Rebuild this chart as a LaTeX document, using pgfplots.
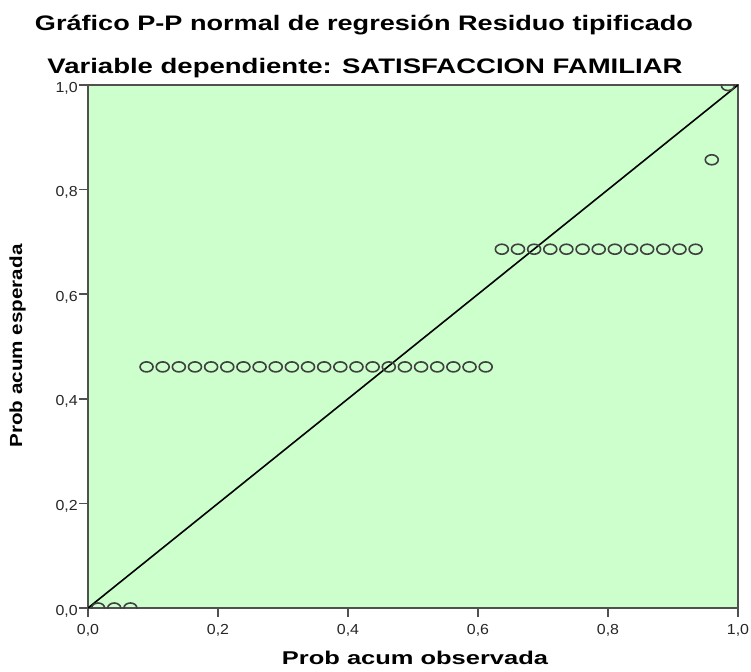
\documentclass[border=0pt]{standalone}
\usepackage{pgfplots}
\pgfplotsset{compat=1.18}
\usepackage{fontspec}
\setmainfont{Liberation Sans}
\newfontfamily\tickfont[FakeStretch=1.1]{Liberation Sans}
\definecolor{bggreen}{RGB}{204,255,204}
\definecolor{axgray}{RGB}{80,80,80}
\begin{document}
\begin{tikzpicture}
\useasboundingbox (-88pt,-63pt) rectangle (663pt,608pt);
\begin{axis}[
  at={(0pt,0pt)}, anchor=south west,
  scale only axis, width=650pt, height=523pt,
  xmin=0, xmax=1, ymin=0, ymax=1,
  xtick={0,0.2,0.4,0.6,0.8,1}, ytick={0,0.2,0.4,0.6,0.8,1},
  xtick pos=left, ytick pos=left,
  tick align=outside, major tick length=9pt,
  tick style={axgray, line width=1.6pt},
  axis line style={axgray, line width=2.2pt},
  axis background/.style={fill=bggreen},
  /pgf/number format/.cd, fixed, fixed zerofill, precision=1, use comma, assume math mode=true,
  /pgfplots/.cd,
  ticklabel style={font=\tickfont\fontsize{14.5}{14.5}\selectfont, text=black!85},
  xticklabel style={inner sep=2pt, yshift=-5pt},
  yticklabel style={inner sep=1pt, yshift=-3pt},
  clip marker paths=true,
]
\addplot[black, line width=1.6pt, no marks] coordinates {(0,0) (1,1)};
\addplot[only marks, mark=o, mark size=5pt,
  mark options={xscale=1.3, line width=1.6pt, draw=black!75}] table {
x y
0.01553 0
0.04037 0
0.06522 0
0.09006 0.461
0.11491 0.461
0.13975 0.461
0.16460 0.461
0.18944 0.461
0.21429 0.461
0.23913 0.461
0.26398 0.461
0.28882 0.461
0.31366 0.461
0.33851 0.461
0.36335 0.461
0.38820 0.461
0.41304 0.461
0.43789 0.461
0.46273 0.461
0.48758 0.461
0.51242 0.461
0.53727 0.461
0.56211 0.461
0.58696 0.461
0.61180 0.461
0.63665 0.686
0.66149 0.686
0.68634 0.686
0.71118 0.686
0.73602 0.686
0.76087 0.686
0.78571 0.686
0.81056 0.686
0.83540 0.686
0.86025 0.686
0.88509 0.686
0.90994 0.686
0.93478 0.686
0.95963 0.857
0.98447 0.999
};
\end{axis}
\node[anchor=base, inner sep=0pt] at (276pt,577pt)
  {\resizebox{658pt}{\height}{\fontsize{21}{24}\selectfont\bfseries Gráfico P-P normal de regresión Residuo tipificado}};
\node[anchor=base, inner sep=0pt] at (277pt,534pt)
  {\resizebox{635pt}{\height}{\fontsize{21}{24}\selectfont\bfseries Variable dependiente: SATISFACCION FAMILIAR}};
\node[anchor=base, inner sep=0pt] at (327pt,-56pt)
  {\resizebox{266pt}{\height}{\fontsize{18.5}{22}\selectfont\bfseries Prob acum observada}};
\node[anchor=center, inner sep=0pt, rotate=90] at (-70.5pt,262pt)
  {\resizebox{203pt}{\height}{\fontsize{17.5}{20}\selectfont\bfseries Prob acum esperada}};
\end{tikzpicture}
\end{document}
